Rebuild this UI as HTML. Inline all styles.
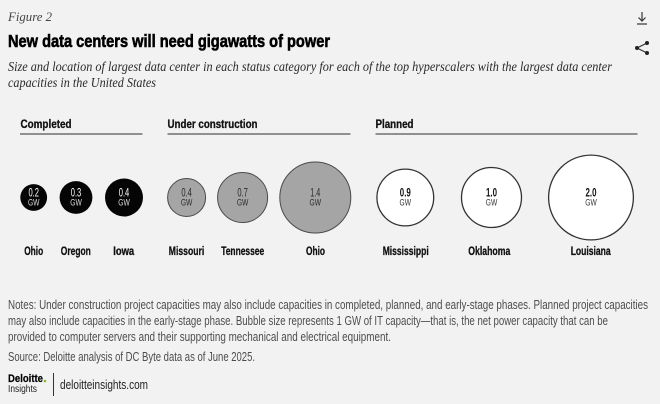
<!DOCTYPE html>
<html><head><meta charset="utf-8"><style>
html,body{margin:0;padding:0;background:#f2f2f2;}
svg{display:block;}
</style></head><body>
<svg width="660" height="404" viewBox="0 0 660 404" xmlns="http://www.w3.org/2000/svg">
<rect width="660" height="404" fill="#f2f2f2"/>
<!-- header -->
<text x="8" y="21" font-family="Liberation Serif, serif" font-style="italic" font-size="13" fill="#444" textLength="44" lengthAdjust="spacingAndGlyphs">Figure 2</text>
<text x="8" y="47" font-family="Liberation Sans, sans-serif" font-weight="bold" font-size="17.5" fill="#000" stroke="#000" stroke-width="0.6" textLength="322" lengthAdjust="spacingAndGlyphs">New data centers will need gigawatts of power</text>
<text x="8" y="71" font-family="Liberation Serif, serif" font-style="italic" font-size="13.5" fill="#2a2a2a" textLength="604" lengthAdjust="spacingAndGlyphs">Size and location of largest data center in each status category for each of the top hyperscalers with the largest data center</text>
<text x="8" y="87" font-family="Liberation Serif, serif" font-style="italic" font-size="13.5" fill="#2a2a2a" textLength="148" lengthAdjust="spacingAndGlyphs">capacities in the United States</text>
<!-- icons -->
<g stroke="#333" stroke-width="1.2" fill="none">
<line x1="642" y1="12" x2="642" y2="21"/>
<polyline points="638.5,17.5 642,21 645.5,17.5"/>
<line x1="637" y1="24" x2="647" y2="24"/>
<polyline points="647,43 637,48 647,53"/>
</g>
<g fill="#222"><circle cx="647" cy="43" r="2"/><circle cx="637" cy="48" r="2"/><circle cx="647" cy="53" r="2"/></g>
<!-- category headers -->
<g font-family="Liberation Sans, sans-serif" font-weight="bold" font-size="11.5" fill="#111" stroke="#111" stroke-width="0.3">
<text x="20.5" y="128" textLength="51" lengthAdjust="spacingAndGlyphs">Completed</text>
<text x="167.5" y="128" textLength="90" lengthAdjust="spacingAndGlyphs">Under construction</text>
<text x="375.5" y="128" textLength="38" lengthAdjust="spacingAndGlyphs">Planned</text>
</g>
<g stroke="#555" stroke-width="1.3">
<line x1="20" y1="134" x2="142.5" y2="134"/>
<line x1="167.5" y1="134" x2="350.5" y2="134"/>
<line x1="375.5" y1="134" x2="637.5" y2="134"/>
</g>
<!-- bubbles -->
<g>
<circle cx="33.7" cy="197.5" r="13.4" fill="#050505"/>
<circle cx="76" cy="197.5" r="16.4" fill="#050505"/>
<circle cx="124" cy="197.5" r="19" fill="#050505"/>
<circle cx="186.6" cy="197.5" r="19" fill="#a5a5a5" stroke="#4a4a4a" stroke-width="1"/>
<circle cx="242.6" cy="197.5" r="25" fill="#a5a5a5" stroke="#4a4a4a" stroke-width="1"/>
<circle cx="315.3" cy="197.5" r="35.5" fill="#a5a5a5" stroke="#4a4a4a" stroke-width="1"/>
<circle cx="405.3" cy="197.5" r="28.4" fill="#ffffff" stroke="#333" stroke-width="1.3"/>
<circle cx="491.5" cy="197.5" r="30" fill="#ffffff" stroke="#333" stroke-width="1.3"/>
<circle cx="591" cy="197.5" r="42.4" fill="#ffffff" stroke="#333" stroke-width="1.3"/>
</g>
<g font-family="Liberation Sans, sans-serif" text-anchor="middle">
<g fill="#fff">
<text x="33.7" y="196.5" font-size="12" textLength="10.5" lengthAdjust="spacingAndGlyphs">0.2</text>
<text x="33.7" y="205.5" font-size="9.5" fill="#ddd" textLength="11.5" lengthAdjust="spacingAndGlyphs">GW</text>
<text x="76" y="196.5" font-size="12" textLength="10.5" lengthAdjust="spacingAndGlyphs">0.3</text>
<text x="76" y="205.5" font-size="9.5" fill="#ddd" textLength="11.5" lengthAdjust="spacingAndGlyphs">GW</text>
<text x="124" y="196.5" font-size="12" textLength="10.5" lengthAdjust="spacingAndGlyphs">0.4</text>
<text x="124" y="205.5" font-size="9.5" fill="#ddd" textLength="11.5" lengthAdjust="spacingAndGlyphs">GW</text>
</g>
<g fill="#2a2a2a">
<text x="186.6" y="196.5" font-size="12" textLength="10.5" lengthAdjust="spacingAndGlyphs">0.4</text>
<text x="186.6" y="205.5" font-size="9.5" textLength="11.5" lengthAdjust="spacingAndGlyphs">GW</text>
<text x="242.6" y="196.5" font-size="12" textLength="10.5" lengthAdjust="spacingAndGlyphs">0.7</text>
<text x="242.6" y="205.5" font-size="9.5" textLength="11.5" lengthAdjust="spacingAndGlyphs">GW</text>
<text x="315.3" y="196.5" font-size="12" textLength="10" lengthAdjust="spacingAndGlyphs">1.4</text>
<text x="315.3" y="205.5" font-size="9.5" textLength="11.5" lengthAdjust="spacingAndGlyphs">GW</text>
</g>
<g fill="#111">
<text x="405.3" y="196.5" font-size="12" font-weight="bold" textLength="11" lengthAdjust="spacingAndGlyphs">0.9</text>
<text x="405.3" y="205.5" font-size="9.5" fill="#333" textLength="11.5" lengthAdjust="spacingAndGlyphs">GW</text>
<text x="491.5" y="196.5" font-size="12" font-weight="bold" textLength="11" lengthAdjust="spacingAndGlyphs">1.0</text>
<text x="491.5" y="205.5" font-size="9.5" fill="#333" textLength="11.5" lengthAdjust="spacingAndGlyphs">GW</text>
<text x="591" y="196.5" font-size="12" font-weight="bold" textLength="11" lengthAdjust="spacingAndGlyphs">2.0</text>
<text x="591" y="205.5" font-size="9.5" fill="#333" textLength="11.5" lengthAdjust="spacingAndGlyphs">GW</text>
</g>
<!-- labels -->
<g font-weight="bold" font-size="11.5" fill="#111" stroke="#111" stroke-width="0.3">
<text x="33.7" y="255" textLength="19" lengthAdjust="spacingAndGlyphs">Ohio</text>
<text x="75.8" y="255" textLength="30" lengthAdjust="spacingAndGlyphs">Oregon</text>
<text x="123.7" y="255" textLength="21" lengthAdjust="spacingAndGlyphs">Iowa</text>
<text x="186.5" y="255" textLength="35.5" lengthAdjust="spacingAndGlyphs">Missouri</text>
<text x="242.7" y="255" textLength="43" lengthAdjust="spacingAndGlyphs">Tennessee</text>
<text x="315.5" y="255" textLength="19" lengthAdjust="spacingAndGlyphs">Ohio</text>
<text x="405.7" y="255" textLength="46" lengthAdjust="spacingAndGlyphs">Mississippi</text>
<text x="489.3" y="255" textLength="42" lengthAdjust="spacingAndGlyphs">Oklahoma</text>
<text x="590.7" y="255" textLength="40" lengthAdjust="spacingAndGlyphs">Louisiana</text>
</g>
</g>
<!-- notes -->
<g font-family="Liberation Sans, sans-serif" font-size="12.5" fill="#4d4d4d">
<text x="8" y="309" textLength="640" lengthAdjust="spacingAndGlyphs">Notes: Under construction project capacities may also include capacities in completed, planned, and early-stage phases. Planned project capacities</text>
<text x="8" y="325" textLength="600" lengthAdjust="spacingAndGlyphs">may also include capacities in the early-stage phase. Bubble size represents 1 GW of IT capacity—that is, the net power capacity that can be</text>
<text x="8" y="341" textLength="383" lengthAdjust="spacingAndGlyphs">provided to computer servers and their supporting mechanical and electrical equipment.</text>
<text x="8" y="361" textLength="247" lengthAdjust="spacingAndGlyphs">Source: Deloitte analysis of DC Byte data as of June 2025.</text>
</g>
<!-- logo -->
<text x="8" y="382" font-family="Liberation Sans, sans-serif" font-weight="bold" font-size="11" fill="#000" stroke="#000" stroke-width="0.2" textLength="35" lengthAdjust="spacingAndGlyphs">Deloitte</text>
<circle cx="45" cy="381" r="1.3" fill="#86bc25"/>
<text x="8" y="392" font-family="Liberation Sans, sans-serif" font-size="10.5" fill="#222" textLength="29" lengthAdjust="spacingAndGlyphs">Insights</text>
<line x1="53.5" y1="373" x2="53.5" y2="396" stroke="#333" stroke-width="1"/>
<text x="60" y="389" font-family="Liberation Sans, sans-serif" font-size="12.5" fill="#222" textLength="88" lengthAdjust="spacingAndGlyphs">deloitteinsights.com</text>
</svg>
</body></html>
